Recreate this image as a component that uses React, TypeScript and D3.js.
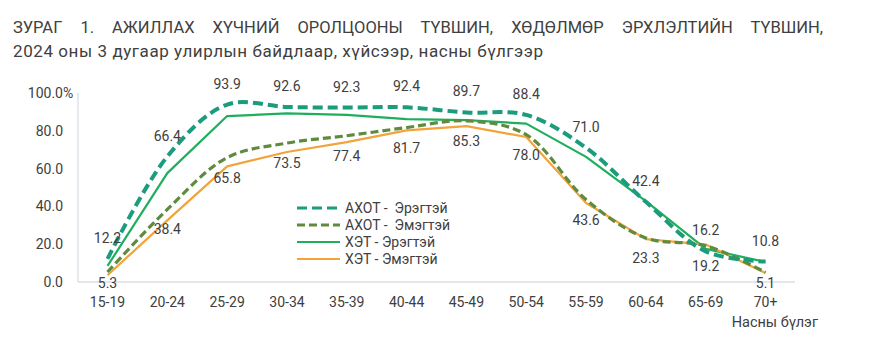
import React from "react";
import * as d3 from "d3";

// age groups and series (percent)
const ageGroups = ["15-19", "20-24", "25-29", "30-34", "35-39", "40-44", "45-49", "50-54", "55-59", "60-64", "65-69", "70+"];
const axotMale = [12.2, 66.4, 93.9, 92.6, 92.3, 92.4, 89.7, 88.4, 71.0, 42.4, 16.2, 10.8];
const axotFemale = [5.3, 38.4, 65.8, 73.5, 77.4, 81.7, 85.3, 78.0, 43.6, 23.3, 19.2, 5.1];
const hetMale = [8.5, 57.6, 87.8, 89.2, 88.4, 86.2, 85.6, 83.8, 66.2, 42.8, 17.5, 10.6];
const hetFemale = [3.6, 32.6, 61.2, 68.8, 74.0, 80.2, 82.5, 76.7, 41.8, 22.7, 19.8, 4.8];
const yTicks = [0, 20, 40, 60, 80, 100];
const seriesNames = ["АХОТ -  Эрэгтэй", "АХОТ -  Эмэгтэй", "ХЭТ - Эрэгтэй", "ХЭТ - Эмэгтэй"];

const titleLine1 = "ЗУРАГ 1. АЖИЛЛАХ ХҮЧНИЙ ОРОЛЦООНЫ ТҮВШИН, ХӨДӨЛМӨР ЭРХЛЭЛТИЙН ТҮВШИН,";
const titleLine2 = "2024 оны 3 дугаар улирлын байдлаар, хүйсээр, насны бүлгээр";

const W = 871;
const H = 358;
const font = "Roboto, 'Noto Sans', sans-serif";

const App = () => {
    const titleRef = React.useRef<SVGTextElement>(null);
    const [wordGap, setWordGap] = React.useState(0);

    // title line 1 is justified: spread the words to reach the right edge
    React.useLayoutEffect(() => {
        if (!titleRef.current) return;
        const natural = titleRef.current.getComputedTextLength();
        const spaces = titleLine1.split(" ").length - 1;
        setWordGap(Math.max(0, (810 - natural) / spaces));
    }, []);

    const x = d3.scalePoint<string>().domain(ageGroups).range([107.5, 765.5]);
    const y = d3.scaleLinear().domain([0, 100]).range([282, 93]);

    const smooth = d3.line<number>()
        .x((d, i) => x(ageGroups[i]) as number)
        .y(d => y(d))
        .curve(d3.curveCatmullRom.alpha(0.5));
    const straight = d3.line<number>()
        .x((d, i) => x(ageGroups[i]) as number)
        .y(d => y(d));

    // solids first, dashed on top
    const series = [
        { name: seriesNames[2], data: hetMale, path: straight, color: "#1FAF5C", width: 2.2, dash: "none" },
        { name: seriesNames[3], data: hetFemale, path: straight, color: "#F2A33A", width: 2.2, dash: "none" },
        { name: seriesNames[1], data: axotFemale, path: smooth, color: "#5E8B3E", width: 3.2, dash: "8,4" },
        { name: seriesNames[0], data: axotMale, path: smooth, color: "#1B9C7C", width: 4, dash: "10,5" },
    ];
    const legendOrder = [3, 2, 0, 1];

    return (
        <div style={{ position: "absolute", left: 0, top: 0 }}>
            <svg width={W} height={H} style={{ display: "block", background: "#fff" }} fontFamily={font}>
                <text ref={titleRef} x={13} y={33} fontSize={16.5} fill="#404040" wordSpacing={wordGap}>{titleLine1}</text>
                <text x={13} y={57} fontSize={17} fill="#404040" textLength={530} lengthAdjust="spacing">{titleLine2}</text>

                {/* axes */}
                <line x1={78} x2={78} y1={y(100)} y2={y(0)} stroke="#DCE3EA" strokeWidth={1.5} />
                <line x1={78} x2={795} y1={y(0)} y2={y(0)} stroke="#DCDCE6" strokeWidth={1.5} />

                {yTicks.map(t => (
                    <g key={t}>
                        <text x={63} y={y(t)} dy="0.35em" textAnchor="end" fontSize={14} fill="#404040">{t.toFixed(1)}</text>
                        {t === 100 && <text x={63} y={y(t)} dy="0.35em" fontSize={14} fill="#404040">%</text>}
                    </g>
                ))}
                {ageGroups.map(g => (
                    <text key={g} x={x(g)} y={307} textAnchor="middle" fontSize={14} fill="#404040">{g}</text>
                ))}
                <text x={818} y={327} textAnchor="end" fontSize={14.5} fill="#404040">Насны бүлэг</text>

                {series.map(s => (
                    <path key={s.name} d={s.path(s.data) || ""} fill="none" stroke={s.color}
                        strokeWidth={s.width} strokeDasharray={s.dash} strokeLinejoin="round" />
                ))}

                {/* data labels: male above, female below */}
                {axotMale.map((v, i) => (
                    <text key={"m" + i} x={x(ageGroups[i])} y={y(v) - 16} textAnchor="middle" fontSize={14} fill="#404040">{v.toFixed(1)}</text>
                ))}
                {axotFemale.map((v, i) => (
                    <text key={"f" + i} x={x(ageGroups[i])} y={Math.min(y(v) + 25, 288)} textAnchor="middle" fontSize={14} fill="#404040">{v.toFixed(1)}</text>
                ))}

                {/* legend */}
                {legendOrder.map((si, row) => {
                    const s = series[si];
                    const ly = 208 + row * 17;
                    return (
                        <g key={s.name}>
                            <line x1={297} x2={340} y1={ly} y2={ly} stroke={s.color}
                                strokeWidth={Math.min(s.width, 3.2)} strokeDasharray={s.dash} />
                            <text x={345} y={ly} dy="0.35em" fontSize={14} fill="#404040" style={{ whiteSpace: "pre" }}>{s.name}</text>
                        </g>
                    );
                })}
            </svg>
        </div>
    );
};

export default App;
